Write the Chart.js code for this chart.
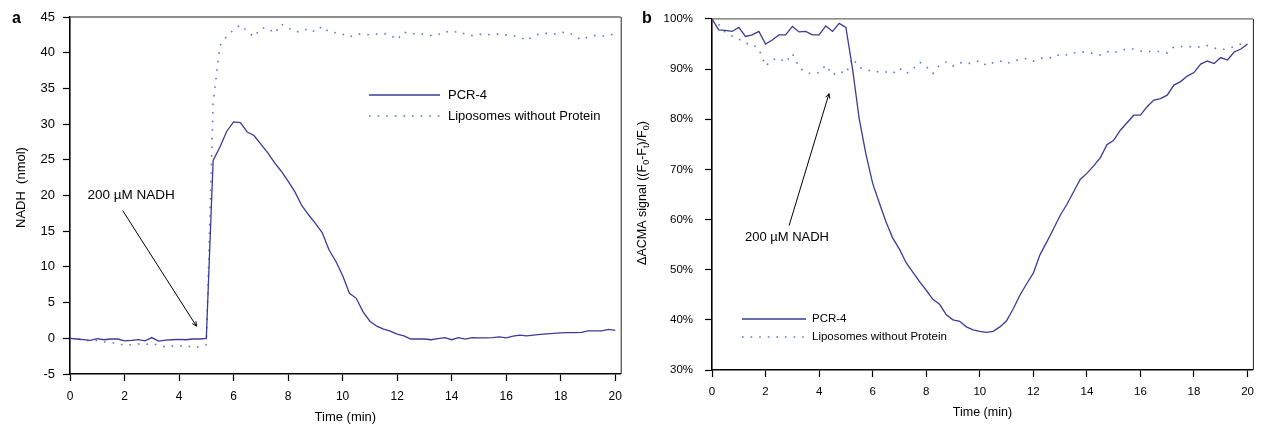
<!DOCTYPE html>
<html>
<head>
<meta charset="utf-8">
<script src="https://cdn.jsdelivr.net/npm/chart.js@4/dist/chart.umd.min.js"></script>
<style>
  html, body { margin: 0; padding: 0; background: #fff; }
  #wrap { position: relative; width: 1262px; height: 425px; }
  canvas { position: absolute; top: 0; }
  #chartA { left: 0; }
  #chartB { left: 630px; }
</style>
</head>
<body>
<div id="wrap">
  <canvas id="chartA" width="630" height="425"></canvas>
  <canvas id="chartB" width="632" height="425"></canvas>
</div>
<script>
// Sampling times (min), one reading every 15 s
const timeMin = [0,0.25,0.5,0.75,1,1.25,1.5,1.75,2,2.25,2.5,2.75,3,3.25,3.5,3.75,4,4.25,4.5,4.75,
  5,5.25,5.5,5.75,6,6.25,6.5,6.75,7,7.25,7.5,7.75,8,8.25,8.5,8.75,9,9.25,9.5,9.75,
  10,10.25,10.5,10.75,11,11.25,11.5,11.75,12,12.25,12.5,12.75,13,13.25,13.5,13.75,14,14.25,14.5,14.75,
  15,15.25,15.5,15.75,16,16.25,16.5,16.75,17,17.25,17.5,17.75,18,18.25,18.5,18.75,19,19.25,19.5,19.75,20];

// Panel a: NADH (nmol)
const nadhPcr4 = [0,-0.1,-0.2,-0.3,-0.05,-0.2,-0.1,-0.1,-0.35,-0.3,-0.2,-0.35,0.1,-0.4,-0.25,-0.2,-0.15,-0.2,-0.1,-0.1,
  0,24.9,26.8,29.0,30.3,30.2,28.9,28.4,27.2,26.0,24.6,23.4,22.0,20.5,18.6,17.3,16.1,14.8,12.4,10.8,
  8.8,6.3,5.6,3.7,2.4,1.7,1.3,1.0,0.6,0.35,-0.1,-0.1,-0.1,-0.2,-0.05,0.1,-0.2,0.1,-0.1,0.1,
  0.05,0.05,0.1,0.2,0.07,0.3,0.45,0.33,0.45,0.56,0.63,0.7,0.75,0.8,0.8,0.84,1.03,1.03,1.05,1.25,1.1];
const nadhLiposomes = [0,-0.1,-0.2,-0.4,-0.3,-0.5,-0.6,-0.7,-1.0,-0.9,-0.8,-0.9,-0.7,-1.0,-1.2,-1.1,-1.1,-1.0,-1.3,-1.2,
  -0.9,33,41,42.3,43.2,43.9,43.0,42.2,43.4,43.5,42.7,44.0,43.5,42.9,43.0,43.4,42.9,43.7,42.9,42.8,
  42.6,42.2,42.6,42.6,42.5,42.6,42.7,42.5,41.8,42.9,42.6,42.7,42.6,42.4,42.5,43.0,42.8,43.0,42.6,42.4,
  42.6,42.5,42.6,42.6,42.5,42.4,42.2,41.7,42.3,42.7,42.7,42.6,42.8,42.9,42.4,41.8,42.2,42.4,42.3,42.4,42.7];

// Panel b: ACMA quenching signal (%)
const acmaPcr4 = [100,97.8,97.7,97.5,98.3,96.5,96.8,97.5,95.0,95.8,96.8,96.8,98.5,97.4,97.5,96.8,96.8,98.6,97.5,99.1,
  98.3,90.0,80.0,73.0,67.2,63.3,59.5,56.3,54.1,51.4,49.5,47.6,45.9,44.1,43.1,41.0,40.0,39.7,38.6,38.0,
  37.7,37.5,37.7,38.6,39.8,42.2,44.9,47.2,49.3,53.0,55.5,58.1,60.8,63.0,65.5,68.0,69.2,70.7,72.3,74.9,
  75.8,77.8,79.3,80.8,80.8,82.5,83.8,84.1,84.8,86.8,87.5,88.6,89.3,91.0,91.6,91.1,92.3,91.8,93.4,94.0,95.0];
const acmaLiposomes = [100,98.9,97.3,96.6,96.0,95.1,95.0,94.0,90.6,91.8,92.2,91.3,93.1,90.4,89.3,89.0,89.3,90.8,88.8,89.6,
  89.1,92.2,90.3,90.0,89.4,89.5,89.4,89.1,90.2,89.1,90.0,91.4,90.5,89.1,90.8,91.4,90.6,91.3,91.0,91.3,
  91.7,90.7,91.3,91.6,91.1,91.6,91.9,92.1,91.6,92.1,92.3,92.2,93.0,92.8,93.2,93.4,93.3,93.1,92.8,93.5,
  93.2,93.7,94.0,94.0,93.6,93.5,93.5,93.5,93.2,94.4,94.5,94.5,94.4,94.4,94.7,94.2,93.9,94.0,94.5,95.0,95.1];

const seriesLabels = ['PCR-4', 'Liposomes without Protein'];
const injectionLabel = '200 µM NADH';
// [text x, text y, arrow start x, arrow start y, arrow tip x, arrow tip y] in data units
const injectionNoteA = [2.24, 20.0, 1.93, 17.9, 4.64, 1.7];
const injectionNoteB = [2.8, 56.5, 2.88, 58.8, 4.37, 85.1];

const FONT = '"Liberation Sans", Arial, Helvetica, sans-serif';
const SOLID = '#3b3b98';
const DOTTED = '#5a78d0';

const points = (ys) => timeMin.map((t, i) => ({ x: t, y: ys[i] }));

// Frame, panel letter, rotated y title (with subscripts), legend and arrow note
const decorPlugin = {
  id: 'decor',
  afterDraw(chart, args, o) {
    const ctx = chart.ctx, a = chart.chartArea;
    const xs = chart.scales.x, ys = chart.scales.y;
    ctx.save();
    // top and right frame lines
    ctx.strokeStyle = '#6a6a6a'; ctx.lineWidth = 1.4;
    ctx.beginPath(); ctx.moveTo(a.left, a.top); ctx.lineTo(a.right, a.top); ctx.stroke();
    ctx.strokeStyle = '#222'; ctx.lineWidth = 1;
    ctx.beginPath(); ctx.moveTo(a.right + 0.5, a.top); ctx.lineTo(a.right + 0.5, a.bottom); ctx.stroke();

    // panel letter
    ctx.fillStyle = '#000';
    ctx.font = 'bold 16px ' + FONT;
    ctx.textAlign = 'left'; ctx.textBaseline = 'middle';
    ctx.fillText(o.letter, o.letterX, o.letterY);

    // rotated y-axis title
    const base = o.titleSize, sub = base * 0.72;
    let total = 0;
    o.titleParts.forEach(([t, isSub]) => {
      ctx.font = (isSub ? sub : base) + 'px ' + FONT;
      total += ctx.measureText(t).width;
    });
    ctx.save();
    ctx.translate(o.titleX, o.titleY);
    ctx.rotate(-Math.PI / 2);
    ctx.textAlign = 'left'; ctx.textBaseline = 'middle';
    let cx = -total / 2;
    o.titleParts.forEach(([t, isSub]) => {
      ctx.font = (isSub ? sub : base) + 'px ' + FONT;
      ctx.fillText(t, cx, isSub ? base * 0.32 : 0);
      cx += ctx.measureText(t).width;
    });
    ctx.restore();

    // legend
    ctx.font = o.legendSize + 'px ' + FONT;
    chart.data.datasets.forEach((ds, i) => {
      const y = o.legendY + i * o.legendGap;
      ctx.save();
      ctx.strokeStyle = ds.borderColor; ctx.lineWidth = ds.borderWidth;
      ctx.setLineDash(ds.borderDash || []);
      ctx.beginPath(); ctx.moveTo(o.legendX, y); ctx.lineTo(o.legendX + o.legendLen, y); ctx.stroke();
      ctx.restore();
      ctx.fillStyle = '#000'; ctx.textAlign = 'left'; ctx.textBaseline = 'middle';
      ctx.fillText(ds.label, o.legendX + o.legendLen + o.legendTextGap, y);
    });

    // injection note with arrow
    const n = o.note;
    ctx.font = o.noteSize + 'px ' + FONT;
    ctx.fillStyle = '#000'; ctx.textAlign = 'center'; ctx.textBaseline = 'middle';
    ctx.fillText(injectionLabel, xs.getPixelForValue(n[0]), ys.getPixelForValue(n[1]));
    const x1 = xs.getPixelForValue(n[2]), y1 = ys.getPixelForValue(n[3]);
    const x2 = xs.getPixelForValue(n[4]), y2 = ys.getPixelForValue(n[5]);
    ctx.strokeStyle = '#000'; ctx.lineWidth = 1;
    ctx.beginPath(); ctx.moveTo(x1, y1); ctx.lineTo(x2, y2); ctx.stroke();
    const ang = Math.atan2(y2 - y1, x2 - x1), hl = 5;
    ctx.beginPath();
    ctx.moveTo(x2 - hl * Math.cos(ang - 0.45), y2 - hl * Math.sin(ang - 0.45));
    ctx.lineTo(x2, y2);
    ctx.lineTo(x2 - hl * Math.cos(ang + 0.45), y2 - hl * Math.sin(ang + 0.45));
    ctx.stroke();
    ctx.restore();
  }
};

function axisStyle(tickSize, pad) {
  return {
    ticks: { color: '#000', font: { family: FONT, size: tickSize }, padding: pad },
    grid: { drawOnChartArea: false, drawTicks: true, tickLength: 7, tickColor: '#000', tickWidth: 1.2 },
    border: { display: true, color: '#000', width: 1.6 }
  };
}

function datasets(solid, dotted) {
  return [
    { label: seriesLabels[0], data: points(solid), borderColor: SOLID, borderWidth: 1.3,
      pointRadius: 0, tension: 0, fill: false },
    { label: seriesLabels[1], data: points(dotted), borderColor: DOTTED, borderWidth: 1.6,
      borderDash: [1.6, 7], pointRadius: 0, tension: 0, fill: false }
  ];
}

// Panel a
const ax = axisStyle(12, 8), ay = axisStyle(13, 8);
new Chart(document.getElementById('chartA'), {
  type: 'line',
  data: { datasets: datasets(nadhPcr4, nadhLiposomes) },
  options: {
    responsive: false, animation: false, events: [],
    layout: { padding: { left: 0, right: 8, top: 17, bottom: 0 } },
    plugins: {
      legend: { display: false }, tooltip: { enabled: false },
      decor: {
        letter: 'a', letterX: 12, letterY: 19,
        titleParts: [['NADH  (nmol)', false]], titleSize: 13, titleX: 21, titleY: 187.5,
        legendX: 369, legendY: 95, legendGap: 21, legendLen: 71, legendTextGap: 8, legendSize: 13,
        note: injectionNoteA, noteSize: 13.5
      }
    },
    scales: {
      x: {
        type: 'linear', min: 0, max: 20.2,
        afterFit(s) { s.height = 51; },
        ticks: Object.assign({}, ax.ticks, { stepSize: 2, includeBounds: false }),
        grid: ax.grid, border: ax.border,
        title: { display: true, text: 'Time (min)', color: '#000', font: { family: FONT, size: 13 }, padding: { top: 0, bottom: 0 } }
      },
      y: {
        type: 'linear', min: -5, max: 45,
        afterFit(s) { s.width = 70; },
        ticks: Object.assign({}, ay.ticks, { stepSize: 5 }),
        grid: ay.grid, border: ay.border
      }
    }
  },
  plugins: [decorPlugin]
});

// Panel b
const bx = axisStyle(11.5, 8), by = axisStyle(11.5, 12);
new Chart(document.getElementById('chartB'), {
  type: 'line',
  data: { datasets: datasets(acmaPcr4, acmaLiposomes) },
  options: {
    responsive: false, animation: false, events: [],
    layout: { padding: { left: 0, right: 6, top: 18, bottom: 0 } },
    plugins: {
      legend: { display: false }, tooltip: { enabled: false },
      decor: {
        letter: 'b', letterX: 12, letterY: 19,
        titleParts: [['\u0394ACMA signal ((F', false], ['0', true], ['-F', false], ['t', true], [')/F', false], ['0', true], [')', false]],
        titleSize: 12.5, titleX: 13, titleY: 193,
        legendX: 112, legendY: 319, legendGap: 18, legendLen: 64, legendTextGap: 6, legendSize: 11.5,
        note: injectionNoteB, noteSize: 13
      }
    },
    scales: {
      x: {
        type: 'linear', min: 0, max: 20.2,
        afterFit(s) { s.height = 55; },
        ticks: Object.assign({}, bx.ticks, { stepSize: 2, includeBounds: false }),
        grid: bx.grid, border: bx.border,
        title: { display: true, text: 'Time (min)', color: '#000', font: { family: FONT, size: 12.5 }, padding: { top: 0, bottom: 4.5 } }
      },
      y: {
        type: 'linear', min: 30, max: 100,
        afterFit(s) { s.width = 82; },
        ticks: Object.assign({}, by.ticks, { stepSize: 10, callback: (v) => v + '%' }),
        grid: by.grid, border: by.border
      }
    }
  },
  plugins: [decorPlugin]
});
</script>
</body>
</html>
